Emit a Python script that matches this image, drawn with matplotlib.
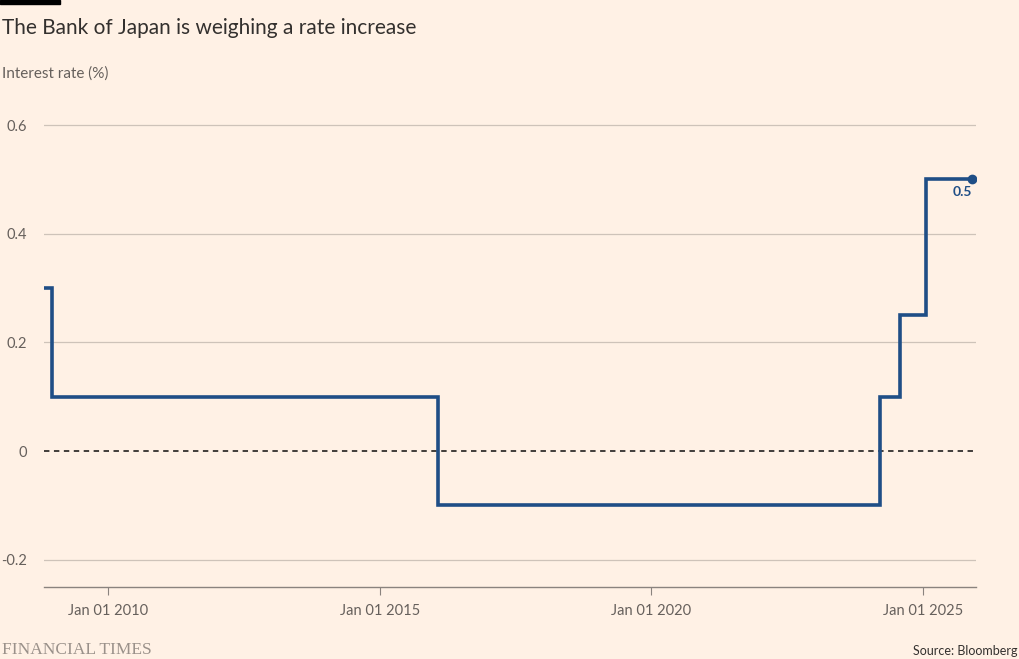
import numpy as np
import pandas as pd
import matplotlib
matplotlib.use('Agg')
import matplotlib.pyplot as plt
import matplotlib.dates as mdates

# policy rate change dates and levels
dates = ['2008-10-31', '2008-12-19', '2016-01-29', '2024-03-19', '2024-07-31', '2025-01-24', '2025-12-01']
rates = [0.3, 0.1, -0.1, 0.1, 0.25, 0.5, 0.5]
yticks = [-0.2, 0, 0.2, 0.4, 0.6]
ytick_labels = ['-0.2', '0', '0.2', '0.4', '0.6']
xticks = ['2010-01-01', '2015-01-01', '2020-01-01', '2025-01-01']

bg = '#FFF1E5'
blue = '#1F4E86'
grid = '#CEC3B9'
txt = '#33302E'
sub = '#66605C'

plt.rcParams['font.family'] = ['Lato', 'DejaVu Sans']

fig = plt.figure(figsize=(10.2, 6.59), dpi=100, facecolor=bg)
ax = fig.add_axes([0.0431, 0.1093, 0.9138, 0.742])
ax.set_facecolor(bg)

d = pd.to_datetime(dates)
ax.plot(d, rates, drawstyle='steps-post', color=blue, lw=2.6, solid_joinstyle='miter', zorder=3)
ax.plot(d[-1], rates[-1], 'o', color=blue, ms=6, zorder=4)
ax.annotate('0.5', (d[-1], rates[-1]), xytext=(0, -5), textcoords='offset points',
            ha='right', va='top', color=blue, fontsize=10, fontweight='bold')

ax.axhline(0, color=txt, lw=1.3, ls=(0, (3, 2.5)), zorder=2)

ax.set_ylim(-0.25, 0.65)
ax.set_xlim(pd.Timestamp('2008-10-26'), pd.Timestamp('2025-12-26'))
ax.set_yticks(yticks)
ax.set_yticklabels(ytick_labels)
for y in yticks:
    if y != 0:
        ax.axhline(y, color=grid, lw=0.9, zorder=1)

ax.set_xticks(pd.to_datetime(xticks))
ax.xaxis.set_major_formatter(mdates.DateFormatter('Jan 01 %Y'))

for s in ['top', 'right', 'left']:
    ax.spines[s].set_visible(False)
ax.spines['bottom'].set_color('#8A837E')
ax.spines['bottom'].set_linewidth(1)
ax.tick_params(axis='y', length=0, pad=12, labelsize=10.5, labelcolor=sub)
ax.tick_params(axis='x', length=6, width=0.8, color='#8A837E', pad=6, labelsize=10.5, labelcolor=sub)

fig.patches.append(plt.Rectangle((0, 1 - 4 / 659), 60 / 1020, 4 / 659, transform=fig.transFigure,
                                 color='black', zorder=10))
fig.text(2 / 1020, 1 - 28 / 659, 'The Bank of Japan is weighing a rate increase', fontsize=15,
         color=txt, va='center', ha='left')
fig.text(2 / 1020, 1 - 74 / 659, 'Interest rate (%)', fontsize=11, color=sub, va='center', ha='left')
fig.text(2 / 1020, 1 - 650 / 659, 'FINANCIAL TIMES', fontsize=12.5, color='#9A918A', va='center',
         ha='left', family=['Liberation Serif', 'DejaVu Serif'])
fig.text(1018 / 1020, 1 - 651 / 659, 'Source: Bloomberg', fontsize=9, color=txt, va='center', ha='right')

fig.savefig('out.png', dpi=100, facecolor=bg)
